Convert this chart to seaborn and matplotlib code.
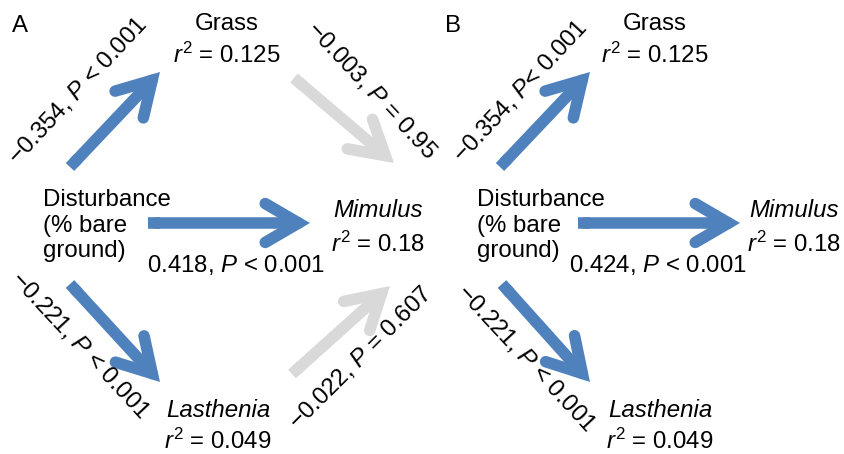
import matplotlib
matplotlib.use("Agg")
import numpy as np
import matplotlib.pyplot as plt
from matplotlib.patches import FancyArrowPatch, ArrowStyle
import seaborn as sns

# ---- data ----
panels = ["A", "B"]
r2_grass = [0.125, 0.125]
r2_mimulus = [0.18, 0.18]
r2_lasthenia = [0.049, 0.049]
coef_dist_grass = ["−0.354", "−0.354"]
p_dist_grass = ["< 0.001", "< 0.001"]
coef_dist_mim = ["0.418", "0.424"]
p_dist_mim = ["< 0.001", "< 0.001"]
coef_dist_las = ["−0.221", "−0.221"]
p_dist_las = ["< 0.001", "< 0.001"]
coef_grass_mim = ["−0.003", None]
p_grass_mim = ["= 0.95", None]
coef_las_mim = ["−0.022", None]
p_las_mim = ["= 0.607", None]

# ---- layout (pixel positions, per panel) ----
L = {
    "A": dict(label=(12, 32), grass=227, dist=43, mim=378, las=218,
              dg=((70, 167), (160, 72)), dm=((148, 223), (310, 223)),
              dl=((70, 284), (160, 382)),
              dg_txt=(78, 91), dm_txt=236, dl_txt=(80, 345)),
    "B": dict(label=(445, 32), grass=655, dist=477, mim=794, las=660,
              dg=((500, 167), (590, 72)), dm=((578, 223), (740, 223)),
              dl=((502, 284), (590, 382)),
              dg_txt=(520, 91), dm_txt=658, dl_txt=(526, 358)),
}

# ---- style ----
sns.set_theme(style="white")
plt.rcParams["font.family"] = ["Liberation Sans", "DejaVu Sans"]
plt.rcParams["mathtext.fontset"] = "custom"
plt.rcParams["mathtext.rm"] = "Liberation Sans"
plt.rcParams["mathtext.it"] = "Liberation Sans:italic"
plt.rcParams["text.color"] = "black"
BLUE = "#4F81BD"
GRAY = "#D9D9D9"
FS = 17.3
LW = 8.3

fig = plt.figure(figsize=(8.44, 4.54), dpi=100)
ax = fig.add_axes([0, 0, 1, 1])
ax.set_xlim(0, 844)
ax.set_ylim(454, 0)
ax.axis("off")

style = ArrowStyle("->", head_length=24, head_width=14)

def arrow(p0, p1, color):
    p0 = np.asarray(p0, float)
    p1 = np.asarray(p1, float)
    d = (p1 - p0) / np.hypot(*(p1 - p0))
    ax.add_patch(FancyArrowPatch(tuple(p0 + 7 * d), tuple(p1), arrowstyle=style,
                                 color=color, lw=LW, shrinkA=0, shrinkB=0,
                                 mutation_scale=1, capstyle="round",
                                 joinstyle="miter"))
    ax.add_patch(FancyArrowPatch(tuple(p0), tuple(p0 + 12 * d), arrowstyle="-",
                                 color=color, lw=LW, shrinkA=0, shrinkB=0,
                                 capstyle="butt"))

def fmt(c, p):
    return f"{c}, $P$ {p}"

for i, name in enumerate(panels):
    g = L[name]
    ax.text(*g["label"], name, fontsize=FS, ha="left", va="baseline")
    ax.text(g["grass"], 30, "Grass", fontsize=FS, ha="center", va="baseline")
    ax.text(g["grass"], 63, f"$r^2$ = {r2_grass[i]}", fontsize=FS, ha="center", va="baseline")
    ax.text(g["dist"], 257, "Disturbance\n(% bare\nground)", fontsize=FS,
            ha="left", va="baseline", linespacing=1.2)
    ax.text(g["mim"], 217, "Mimulus", fontsize=FS, ha="center", va="baseline", style="italic")
    ax.text(g["mim"], 252, f"$r^2$ = {r2_mimulus[i]}", fontsize=FS, ha="center", va="baseline")
    ax.text(g["las"], 417, "Lasthenia", fontsize=FS, ha="center", va="baseline", style="italic")
    ax.text(g["las"], 449, f"$r^2$ = {r2_lasthenia[i]}", fontsize=FS, ha="center", va="baseline")

    arrow(*g["dg"], BLUE)
    arrow(*g["dm"], BLUE)
    arrow(*g["dl"], BLUE)

    g_txt = fmt(coef_dist_grass[i], p_dist_grass[i]) if i == 0 else f"{coef_dist_grass[i]}, $P$< 0.001"
    ax.text(*g["dg_txt"], g_txt, fontsize=FS, rotation=47,
            rotation_mode="anchor", ha="center", va="center")
    ax.text(g["dm_txt"], 272, fmt(coef_dist_mim[i], p_dist_mim[i]), fontsize=FS,
            ha="center", va="baseline")
    ax.text(*g["dl_txt"], fmt(coef_dist_las[i], p_dist_las[i]),
            fontsize=FS, rotation=-47, rotation_mode="anchor", ha="center", va="center")

    if coef_grass_mim[i] is not None:
        arrow((294, 78), (394, 163), GRAY)
        ax.text(372, 90, fmt(coef_grass_mim[i], p_grass_mim[i]), fontsize=FS,
                rotation=-47, rotation_mode="anchor", ha="center", va="center")
    if coef_las_mim[i] is not None:
        arrow((292, 374), (390, 286), GRAY)
        ax.text(360, 358, fmt(coef_las_mim[i], p_las_mim[i]), fontsize=FS,
                rotation=45, rotation_mode="anchor", ha="center", va="center")

fig.savefig("out.png", dpi=100)
